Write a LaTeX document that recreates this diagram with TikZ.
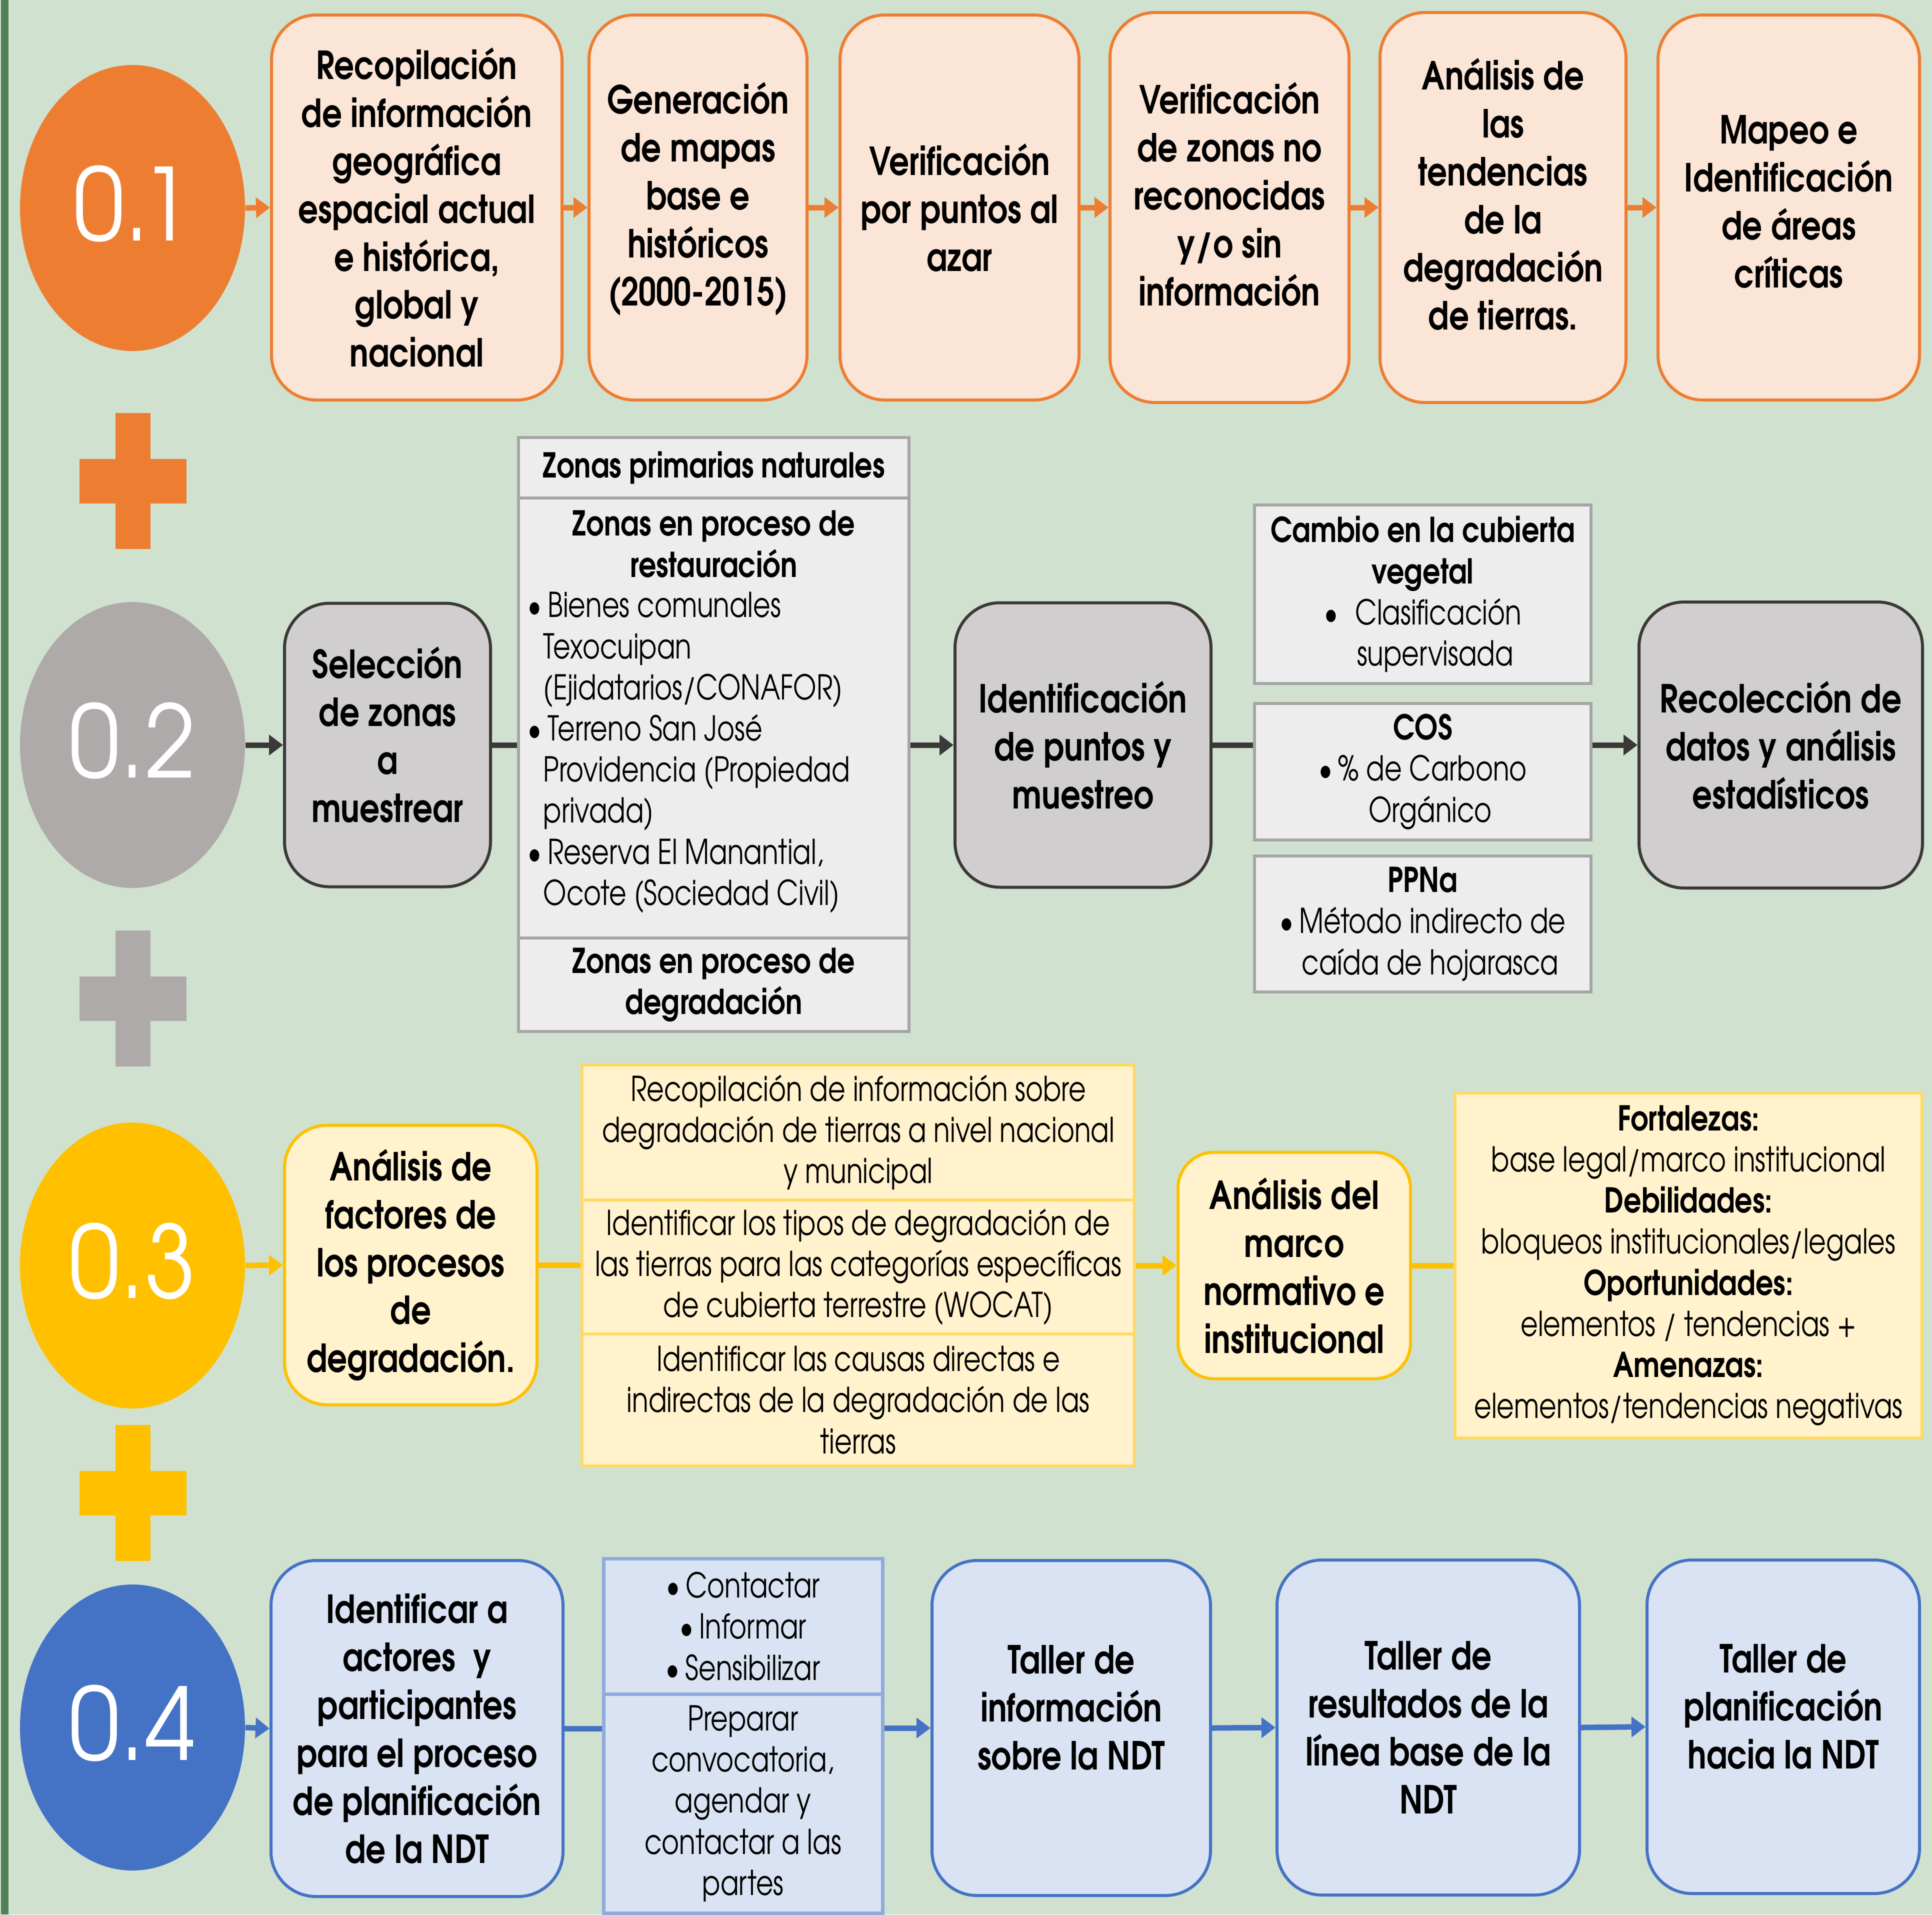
\documentclass[tikz,border=0pt]{standalone}
\usepackage{fontspec}
\setmainfont{texgyreadventor}[Extension=.otf,UprightFont=*-regular,BoldFont=*-bold,ItalicFont=*-italic,BoldItalicFont=*-bolditalic,UprightFeatures={FakeStretch=0.78},BoldFeatures={FakeStretch=0.81}]
\newfontfamily\numfont{texgyreadventor}[Extension=.otf,UprightFont=*-regular,FakeStretch=0.91]
\usetikzlibrary{arrows.meta,shapes.geometric}
\definecolor{bgG}{HTML}{D0E1CF}
\definecolor{barG}{HTML}{548058}
\definecolor{orC}{HTML}{ED7D31}
\definecolor{orL}{HTML}{FBE5D6}
\definecolor{grC}{HTML}{AEAAAA}
\definecolor{grD}{HTML}{3B3838}
\definecolor{grL}{HTML}{D0CECE}
\definecolor{grT}{HTML}{EDEDED}
\definecolor{grB}{HTML}{A5A5A5}
\definecolor{yeC}{HTML}{FFC000}
\definecolor{yeL}{HTML}{FFF2CC}
\definecolor{yeB}{HTML}{FFD966}
\definecolor{blC}{HTML}{4472C4}
\definecolor{blL}{HTML}{DAE3F3}
\definecolor{blB}{HTML}{8FAADC}
\newcommand\fbig{\fontsize{22}{27.3}\selectfont\bfseries}
\newcommand\fsm{\fontsize{19.5}{23.4}\selectfont}
\newcommand\fnum{\numfont\fontsize{57}{64}\selectfont}
\newcommand\dd[1]{\rule[-#1]{0pt}{#1}}
\tikzset{
 bx/.style={rectangle, rounded corners=0.9cm, line width=0.06cm, align=center, font=\fbig, inner sep=0pt},
 obox/.style={bx, draw=orC, fill=orL},
 gbox/.style={bx, draw=grD, fill=grL},
 ybox/.style={bx, draw=yeC, fill=yeL, rounded corners=0.85cm},
 bbox/.style={bx, draw=blC, fill=blL},
 cell/.style={rectangle, line width=0.06cm, align=center, font=\fsm, inner sep=0pt},
 gcell/.style={cell, draw=grB, fill=grT},
 ycell/.style={cell, draw=yeB, fill=yeL},
 bcell/.style={cell, draw=blB, fill=blL, line width=0.07cm},
 circ/.style={ellipse, minimum width=4.5cm, minimum height=5.72cm, inner sep=0pt, text=white, font=\fnum},
 con/.style={line width=0.11cm},
 arr/.style={con, -{Triangle[length=0.28cm,width=0.40cm]}},
}
\begin{document}
\begin{tikzpicture}
\useasboundingbox (0,0) rectangle (38.64,-38.29);
\fill[bgG] (0,0) rectangle (38.64,-38.29);
\fill[barG] (0.02,0) rectangle (0.17,-38.29);
% plus signs
\fill[orC] (1.59,-9.175) rectangle (3.73,-10.065);
\fill[orC] (2.31,-8.26) rectangle (3.01,-10.98);
\fill[grC] (1.59,-19.525) rectangle (3.73,-20.415);
\fill[grC] (2.31,-18.61) rectangle (3.01,-21.33);
\fill[yeC] (1.59,-29.415) rectangle (3.73,-30.305);
\fill[yeC] (2.31,-28.50) rectangle (3.01,-31.22);
% circles
\node[circ, fill=orC] (c1) at (2.65,-4.16) {0.1\dd{0.2cm}};
\node[circ, fill=grC] (c2) at (2.65,-14.90) {0.2\dd{0.2cm}};
\node[circ, fill=yeC] (c3) at (2.65,-25.31) {0.3\dd{0.2cm}};
\node[circ, fill=blC] (c4) at (2.65,-34.55) {0.4\dd{0.2cm}};
% row 1
\node[obox, minimum width=5.81cm, minimum height=7.7cm] (b1) at (8.335,-4.15) {Recopilación\\de información\\geográfica\\espacial actual\\e histórica,\\global y\\nacional};
\node[obox, minimum width=4.36cm, minimum height=7.7cm] (b2) at (13.96,-4.15) {Generación\\de mapas\\base e\\históricos\\(2000-2015)\dd{0.54cm}};
\node[obox, minimum width=4.78cm, minimum height=7.7cm] (b3) at (19.19,-4.15) {Verificación\\por puntos al\\azar};
\node[obox, minimum width=4.78cm, minimum height=7.8cm] (b4) at (24.59,-4.15) {Verificación\\de zonas no\\reconocidas\\y/o sin\\información\dd{0.54cm}};
\node[obox, minimum width=4.92cm, minimum height=7.8cm] (b5) at (30.06,-4.15) {Análisis de\\las\\tendencias\\de la\\degradación\\de tierras.\dd{0.54cm}};
\node[obox, minimum width=5.23cm, minimum height=7.7cm] (b6) at (35.775,-4.15) {Mapeo e\\Identificación\\de áreas\\críticas\dd{0.24cm}};
\draw[arr, orC] (c1.east) -- (b1.west);
\draw[arr, orC] (b1.east) -- (b2.west);
\draw[arr, orC] (b2.east) -- (b3.west);
\draw[arr, orC] (b3.east) -- (b4.west);
\draw[arr, orC] (b4.east) -- (b5.west);
\draw[arr, orC] (b5.east) -- (b6.west);
% row 2
\node[gbox, minimum width=4.12cm, minimum height=5.67cm] (s) at (7.75,-14.90) {Selección\\de zonas\\a\\muestrear\dd{0.42cm}};
\node[gcell, minimum width=7.81cm, minimum height=1.21cm] (t2a) at (14.275,-9.355) {\textbf{Zonas primarias naturales}};
\node[gcell, minimum width=7.81cm, minimum height=8.80cm] (t2b) at (14.275,-14.36) {};
\node[gcell, minimum width=7.81cm, minimum height=1.87cm] (t2c) at (14.275,-19.695) {\textbf{Zonas en proceso de}\\\textbf{degradación}};
\node[font=\fsm, align=center, inner sep=0pt] (t2h) at (14.275,-10.88) {\textbf{Zonas en proceso de}\\\textbf{restauración}};
\node[font=\fsm, align=left, inner sep=0pt, anchor=west] (t2l) at (10.55,-15.05) {•\hspace{0.12cm}Bienes comunales\\\hspace*{0.31cm}Texocuipan\\\hspace*{0.31cm}(Ejidatarios/CONAFOR)\\•\hspace{0.12cm}Terreno San José\\\hspace*{0.31cm}Providencia (Propiedad\\\hspace*{0.31cm}privada)\\•\hspace{0.12cm}Reserva El Manantial,\\\hspace*{0.31cm}Ocote (Sociedad Civil)};
\node[gbox, minimum width=5.12cm, minimum height=5.69cm] (id) at (21.66,-14.90) {Identificación\\de puntos y\\muestreo};
\node[gcell, minimum width=6.73cm, minimum height=3.57cm] (cam) at (28.455,-11.885) {\textbf{Cambio en la cubierta}\\\textbf{vegetal}\\•\hspace{0.35cm}Clasificación\\\hspace*{0.5cm}supervisada};
\node[gcell, minimum width=6.73cm, minimum height=2.73cm] (cos) at (28.455,-15.435) {\textbf{COS}\\•\,\% de Carbono\\\hspace*{0.3cm}Orgánico};
\node[gcell, minimum width=6.73cm, minimum height=2.72cm] (ppn) at (28.455,-18.48) {\textbf{PPNa}\\•\,Método indirecto de\\\hspace*{0.3cm}caída de hojarasca};
\node[gbox, minimum width=5.67cm, minimum height=5.72cm] (rec) at (35.615,-14.90) {Recolección de\\datos y análisis\\estadísticos};
\draw[arr, grD] (c2.east) -- (s.west);
\draw[con, grD] (s.east) -- (s.east -| t2b.west);
\draw[arr, grD] (s.east -| t2b.east) -- (id.west);
\draw[con, grD] (id.east) -- (id.east -| cos.west);
\draw[arr, grD] (rec.west -| cos.east) -- (rec.west);
% row 3
\node[ybox, minimum width=5.05cm, minimum height=5.59cm] (af) at (8.215,-25.30) {Análisis de\\factores de\\los procesos\\de\\degradación.};
\node[ycell, minimum width=11.05cm, minimum height=2.70cm] (t3a) at (17.165,-22.65) {Recopilación de información sobre\\degradación de tierras a nivel nacional\\y municipal};
\node[ycell, minimum width=11.05cm, minimum height=2.68cm] (t3b) at (17.165,-25.34) {Identificar los tipos de degradación de\\las tierras para las categorías específicas\\de cubierta terrestre (WOCAT)};
\node[ycell, minimum width=11.05cm, minimum height=2.64cm] (t3c) at (17.165,-28.00) {Identificar las causas directas e\\indirectas de la degradación de las\\tierras};
\node[ybox, rounded corners=0.72cm, minimum width=4.65cm, minimum height=4.53cm] (mk) at (25.885,-25.31) {Análisis del\\marco\\normativo e\\institucional};
\node[ycell, minimum width=9.34cm, minimum height=6.90cm] (fo) at (33.77,-25.31) {\textbf{Fortalezas:}\\base legal/marco institucional\\\textbf{Debilidades:}\\bloqueos institucionales/legales\\\textbf{Oportunidades:}\\elementos / tendencias +\\\textbf{Amenazas:}\\elementos/tendencias negativas};
\draw[arr, yeC] (c3.east) -- (af.west);
\draw[con, yeC] (af.east) -- (af.east -| t3b.west);
\draw[arr, yeC] (mk.west -| t3b.east) -- (mk.west);
\draw[con, yeC] (mk.east) -- (mk.east -| fo.west);
% row 4
\node[bbox, minimum width=5.84cm, minimum height=6.72cm] (ia) at (8.34,-34.57) {Identificar a\\actores~ y\\participantes\\para el proceso\\de planificación\\de la NDT};
\node[bcell, minimum width=5.58cm, minimum height=2.71cm] (t4a) at (14.86,-32.525) {•\,Contactar\\•\,Informar\\•\,Sensibilizar};
\node[bcell, minimum width=5.58cm, minimum height=4.38cm] (t4b) at (14.86,-36.07) {Preparar\\convocatoria,\\agendar y\\contactar a las\\partes};
\node[bbox, minimum width=5.57cm, minimum height=6.70cm] (ta1) at (21.425,-34.56) {Taller de\\información\\sobre la NDT\dd{0.82cm}};
\node[bbox, minimum width=6.05cm, minimum height=6.70cm] (ta2) at (28.565,-34.55) {Taller de\\resultados de la\\línea base de la\\NDT};
\node[bbox, minimum width=5.45cm, minimum height=6.67cm] (ta3) at (35.665,-34.535) {Taller de\\planificación\\hacia la NDT\dd{0.82cm}};
\draw[arr, blC] (c4.east) -- (ia.west);
\draw[con, blC] (ia.east) -- (ia.east -| t4b.west);
\draw[arr, blC] (ta1.west -| t4b.east) -- (ta1.west);
\draw[arr, blC] (ta1.east) -- (ta2.west);
\draw[arr, blC] (ta2.east) -- (ta3.west);
\end{tikzpicture}
\end{document}
